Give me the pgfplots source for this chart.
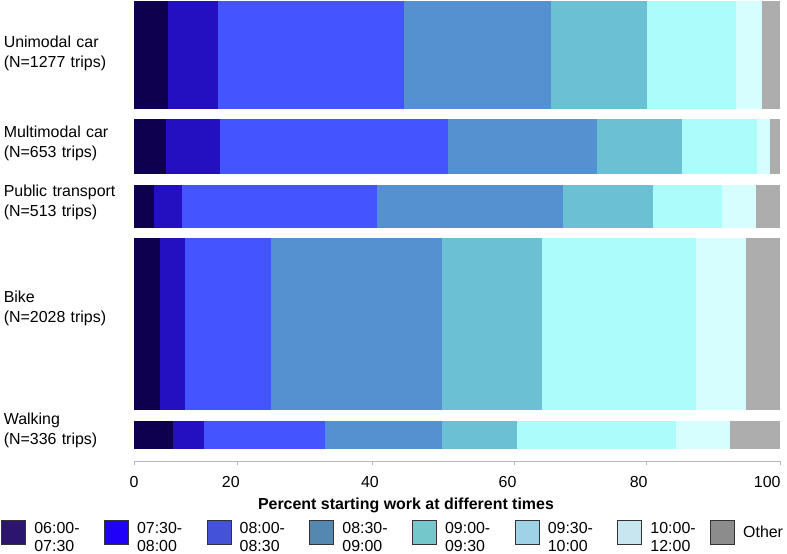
\documentclass[border=0pt]{standalone}
\usepackage{pgfplots}
\pgfplotsset{compat=1.18}
\usepackage{fontspec}
\setmainfont{Liberation Sans}

% bar fills
\definecolor{c1}{RGB}{14,0,78}
\definecolor{c2}{RGB}{36,16,192}
\definecolor{c3}{RGB}{68,85,255}
\definecolor{c4}{RGB}{85,144,208}
\definecolor{c5}{RGB}{108,192,212}
\definecolor{c6}{RGB}{173,252,252}
\definecolor{c7}{RGB}{214,254,254}
\definecolor{c8}{RGB}{173,173,173}
% legend swatches
\definecolor{l1}{RGB}{43,21,110}
\definecolor{l2}{RGB}{32,0,248}
\definecolor{l3}{RGB}{67,82,216}
\definecolor{l4}{RGB}{85,136,176}
\definecolor{l5}{RGB}{116,200,204}
\definecolor{l6}{RGB}{159,210,230}
\definecolor{l7}{RGB}{200,230,240}
\definecolor{l8}{RGB}{140,140,140}

\newcommand{\seg}[5]{\addplot[fill=#1, draw=none, forget plot] coordinates {(#2,#4) (#3,#4) (#3,#5) (#2,#5)};}
% y0, y1 (in trips), then the 7 cumulative percent breaks
\newcommand{\tripbar}[9]{%
  \seg{c1}{0}{#3}{#1}{#2}
  \seg{c2}{#3}{#4}{#1}{#2}
  \seg{c3}{#4}{#5}{#1}{#2}
  \seg{c4}{#5}{#6}{#1}{#2}
  \seg{c5}{#6}{#7}{#1}{#2}
  \seg{c6}{#7}{#8}{#1}{#2}
  \seg{c7}{#8}{#9}{#1}{#2}
  \seg{c8}{#9}{100}{#1}{#2}}
\newcommand{\twol}[3][58bp]{\parbox[c]{#1}{\raggedright #2\\#3}}

\begin{document}
\begin{tikzpicture}
\begin{axis}[
    scale only axis,
    width=646bp, height=460bp,
    xmin=0, xmax=100, ymin=0, ymax=5450,
    enlargelimits=false,
    % the printed axis is not evenly spaced
    x coord trafo/.code={\pgfmathparse{#1<=20 ? #1*5.15 : (#1<=40 ? 103+(#1-20)*6.75 : (#1<=60 ? 238+(#1-40)*7.1 : (#1<=80 ? 380+(#1-60)*6.6 : 512+(#1-80)*6.7)))}},
    axis x line*=bottom,
    axis y line*=left,
    x axis line style={draw=gray!55, line width=0.9bp},
    y axis line style={draw=none},
    xtick={0,20,40,60,80,100},
    xticklabels={},
    extra x ticks={0,18.8,39.7,59.1,78.9,98.1},
    extra x tick labels={0,20,40,60,80,100},
    extra x tick style={major tick length=0pt, xticklabel style={yshift=-12bp}},
    tick align=outside,
    major tick length=4bp,
    xtick style={draw=gray!55, line width=0.9bp},
    ytick style={draw=none},
    ytick={361,1813,3069,3768,4834},
    yticklabels={{Walking\\(N=336 trips)},{Bike\\(N=2028 trips)},{Public transport\\(N=513 trips)},{Multimodal car\\(N=653 trips)},{Unimodal car\\(N=1277 trips)}},
    yticklabel style={align=left, text width=126bp, inner sep=0pt, font=\fontsize{16}{20}\selectfont},
    xticklabel style={font=\fontsize{16}{20}\selectfont},
    xlabel={Percent starting work at different times},
    xlabel style={font=\fontsize{16}{20}\selectfont\bfseries, at={(axis description cs:0.421,-0.096)}, anchor=center},
    legend columns=8,
    legend image code/.code={\draw[#1, draw=black!80, line width=1.2bp] (0bp,-12bp) rectangle (24bp,12bp);},
    legend style={at={(axis description cs:-0.2059,-0.156)}, anchor=west, draw=none, fill=none,
        inner sep=0pt, font=\fontsize{16}{18}\selectfont,
        /tikz/every odd column/.append style={column sep=6bp},
        /tikz/every even column/.append style={column sep=7.5bp}},
    legend cell align=left,
]
% Unimodal car
\tripbar{4173}{5450}{6.66}{16.25}{44.55}{65.6}{80.2}{93.4}{97.3}
% Multimodal car
\tripbar{3400}{4053}{6.21}{16.7}{50.7}{72.6}{85.4}{96.6}{98.5}
% Public transport
\tripbar{2757}{3270}{3.83}{9.26}{40.7}{67.4}{81.0}{91.3}{96.4}
% Bike
\tripbar{609}{2637}{5.11}{9.84}{25.0}{49.9}{64.2}{87.5}{94.9}
% Walking
\tripbar{143}{479}{7.57}{13.6}{33.1}{49.8}{60.5}{84.5}{92.5}

\addlegendimage{fill=l1}\addlegendentry{\twol[60bp]{06:00-}{07:30}}
\addlegendimage{fill=l2}\addlegendentry{\twol[60bp]{07:30-}{08:00}}
\addlegendimage{fill=l3}\addlegendentry{\twol[60bp]{08:00-}{08:30}}
\addlegendimage{fill=l4}\addlegendentry{\twol[60bp]{08:30-}{09:00}}
\addlegendimage{fill=l5}\addlegendentry{\twol[60bp]{09:00-}{09:30}}
\addlegendimage{fill=l6}\addlegendentry{\twol[60bp]{09:30-}{10:00}}
\addlegendimage{fill=l7}\addlegendentry{\twol[50bp]{10:00-}{12:00}}
\addlegendimage{fill=l8}\addlegendentry{Other}
\coordinate (o) at (rel axis cs:0,0);
\end{axis}
\pgfresetboundingbox
\path (o) ++(-134bp,-93bp) rectangle ++(787bp,554bp);
\end{tikzpicture}
\end{document}
